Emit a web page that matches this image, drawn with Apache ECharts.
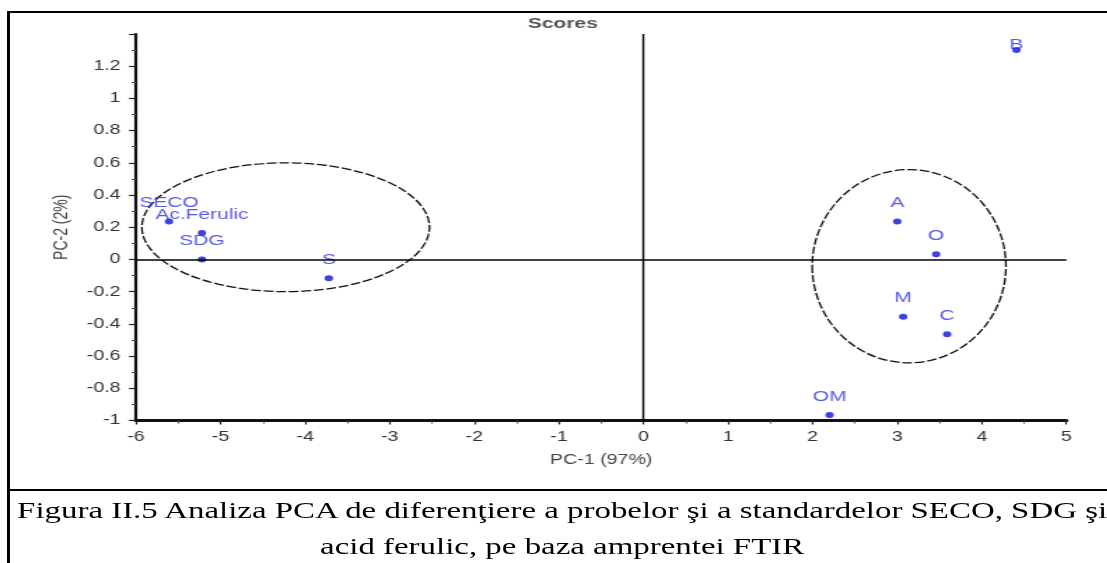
<!DOCTYPE html>
<html>
<head>
<meta charset="utf-8">
<script src="https://cdn.jsdelivr.net/npm/echarts@6/dist/echarts.min.js"></script>
<style>
  html, body { margin: 0; padding: 0; background: #fff; overflow: hidden; }
  body { width: 1107px; height: 563px; position: relative; }
  /* the figure page is laid out narrow and widened horizontally */
  #page {
    position: absolute; left: 0; top: 0;
    width: 791px; height: 563px;
    transform: scaleX(1.4); transform-origin: 0 0;
  }
  #chart { position: absolute; left: 0; top: 0; width: 791px; height: 490px; filter: blur(0.3px); }
  .rule { position: absolute; background: #000; }
  #caption {
    position: absolute; top: 492px; left: 5px; width: 793px;
    font-family: "Liberation Serif", "Times New Roman", serif;
    font-size: 23.5px; line-height: 36px; color: #000; text-align: center;
    white-space: nowrap;
  }
</style>
</head>
<body>
<div id="page">
  <div id="chart"></div>
  <div class="rule" style="left:5px; top:11px; width:800px; height:2px;"></div>
  <div class="rule" style="left:5px; top:11px; width:1.5px; height:560px;"></div>
  <div class="rule" style="left:5px; top:489px; width:800px; height:2px;"></div>
  <div id="caption">Figura II.5 Analiza PCA de diferenţiere a probelor şi a standardelor SECO, SDG şi<br>acid ferulic, pe baza amprentei FTIR</div>
</div>
<script>
// PCA scores of the samples and standards (PC-1 vs PC-2)
const sampleNames = ['SECO', 'Ac.Ferulic', 'SDG', 'S', 'A', 'O', 'M', 'C', 'B', 'OM'];
const pc1Scores  = [-5.61, -5.22, -5.22, -3.72, 3.00, 3.46, 3.07, 3.59, 4.41, 2.20];
const pc2Scores  = [0.235, 0.165, 0.0, -0.117, 0.235, 0.032, -0.355, -0.465, 1.30, -0.966];

// group boundaries: centre (PC-1, PC-2) and semi-axes
const groupCx = [-4.23, 3.14];
const groupCy = [0.20, -0.042];
const groupRx = [1.70, 1.145];
const groupRy = [0.40, 0.60];

// axis tick settings
const xTicks = { min: -6, max: 5, step: 1 };
const yTicks = { min: -1, max: 1.4, step: 0.2 };

const sans = '"Liberation Sans", Arial, sans-serif';

const points = sampleNames.map((n, i) => {
  const item = { name: n, value: [pc1Scores[i], pc2Scores[i]] };
  if (n === 'B') item.label = { distance: -5 };
  return item;
});
const groups = groupCx.map((cx, i) => [cx, groupCy[i], groupRx[i], groupRy[i]]);

const chart = echarts.init(document.getElementById('chart'), null, { renderer: 'canvas' });
chart.setOption({
  animation: false,
  backgroundColor: 'transparent',
  title: {
    text: 'Scores', left: 377, top: 16, padding: 0,
    textStyle: { fontFamily: sans, fontSize: 15, fontWeight: 'bold', color: '#555' }
  },
  grid: { left: 97.14, right: 29.29, top: 34, bottom: 69.5, containLabel: false },
  xAxis: {
    type: 'value', min: xTicks.min, max: xTicks.max, interval: xTicks.step,
    name: 'PC-1 (97%)', nameLocation: 'middle', nameGap: 33,
    nameTextStyle: { fontFamily: sans, fontSize: 14, color: '#444' },
    axisLine: { onZero: false, lineStyle: { color: '#111', width: 3 } },
    axisTick: { length: 4, lineStyle: { color: '#222', width: 1.2 } },
    minorTick: { show: true, splitNumber: 2, length: 3, lineStyle: { color: '#444', width: 1 } },
    axisLabel: { fontFamily: sans, fontSize: 14, color: '#333', margin: 10 },
    splitLine: { show: false }
  },
  yAxis: {
    type: 'value', min: yTicks.min, max: yTicks.max, interval: yTicks.step,
    name: 'PC-2 (2%)', nameLocation: 'middle', nameRotate: 90, nameGap: 44,
    nameTextStyle: { fontFamily: sans, fontSize: 14, color: '#444' },
    axisLine: { onZero: false, lineStyle: { color: '#111', width: 2.2 } },
    axisTick: { length: 5, lineStyle: { color: '#222', width: 1.2 } },
    minorTick: { show: true, splitNumber: 2, length: 3, lineStyle: { color: '#444', width: 1 } },
    axisLabel: { fontFamily: sans, fontSize: 14, color: '#333', margin: 11, showMaxLabel: false },
    splitLine: { show: false }
  },
  series: [
    {
      type: 'custom',
      name: 'groups',
      silent: true,
      encode: { x: 0, y: 1 },
      data: groups,
      renderItem: function (params, api) {
        const c = api.coord([api.value(0), api.value(1)]);
        const s = api.size([api.value(2), api.value(3)]);
        const rx = s[0], ry = s[1];
        const d = 'M ' + (c[0] - rx) + ' ' + c[1] +
          ' A ' + rx + ' ' + ry + ' 0 1 0 ' + (c[0] + rx) + ' ' + c[1] +
          ' A ' + rx + ' ' + ry + ' 0 1 0 ' + (c[0] - rx) + ' ' + c[1] + ' Z';
        return {
          type: 'path',
          shape: { pathData: d },
          style: { fill: 'none', stroke: '#111', lineWidth: 1.3, lineDash: [7, 2] }
        };
      },
      z: 2
    },
    {
      type: 'scatter',
      name: 'scores',
      symbol: 'circle',
      symbolSize: 6,
      itemStyle: { color: '#1010d8' },
      label: {
        show: true, position: 'top', distance: 8, formatter: '{b}',
        fontFamily: sans, fontSize: 15, color: '#2f2fe2'
      },
      data: points,
      markLine: {
        silent: true, symbol: 'none', animation: false,
        label: { show: false },
        lineStyle: { color: '#000', type: 'solid' },
        data: [
          { xAxis: 0, lineStyle: { width: 1.4 } },
          { yAxis: 0, lineStyle: { width: 1.5 } }
        ]
      },
      z: 3
    }
  ]
});
</script>
</body>
</html>
